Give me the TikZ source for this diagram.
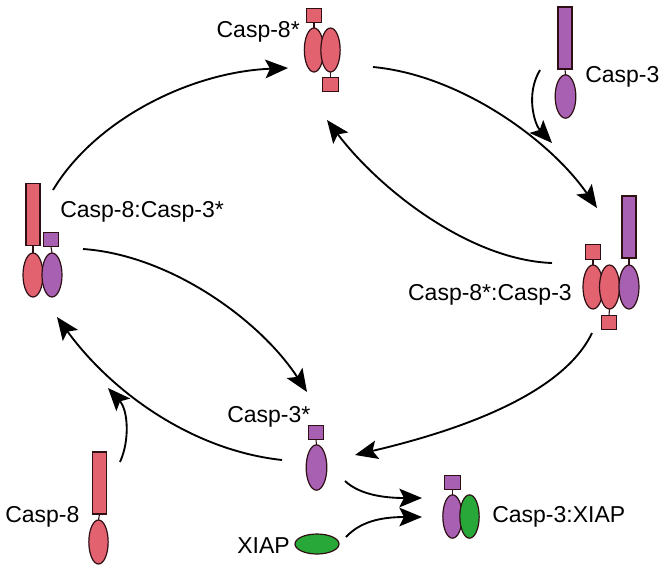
\documentclass[tikz,border=0pt]{standalone}
\usepackage{fontspec}
\setmainfont{Liberation Sans}
\usetikzlibrary{shapes.geometric,arrows.meta}
\definecolor{cpink}{RGB}{226,98,112}
\definecolor{cpurp}{RGB}{168,96,178}
\definecolor{cgreen}{RGB}{40,168,56}
\definecolor{cline}{RGB}{45,15,20}
\begin{document}
\begin{tikzpicture}[x=0.75pt,y=-0.75pt,
  part/.style={draw=cline,line width=0.9pt,inner sep=0pt,outer sep=0pt},
  oval/.style={part,ellipse,minimum width=14.5pt,minimum height=33pt},
  box/.style={part,rectangle,minimum width=11.7pt,minimum height=11pt},
  bar/.style={part,rectangle,minimum width=10.5pt,minimum height=46.5pt},
  pink/.style={fill=cpink},
  purp/.style={fill=cpurp},
  green/.style={fill=cgreen},
  link/.style={draw=cline,line width=0.8pt},
  lbl/.style={inner sep=0pt,font=\fontsize{17.25pt}{20pt}\selectfont},
  flow/.style={line width=1.4pt,-{Stealth[length=17pt,width=14pt,inset=3.5pt]}}
]
\useasboundingbox (0,0) rectangle (664,572);

% Casp-8*
\node[box,pink] (a8sqt) at (314,15.5) {};
\node[oval,pink] (a8l) at (314,50) {};
\node[oval,pink] (a8r) at (330.5,50) {};
\node[box,pink] (a8sqb) at (330.5,84.5) {};
\draw[link] (a8sqt.south) -- (a8l.north);
\draw[link] (a8r.south) -- (a8sqb.north);
\node[lbl,anchor=base east] (la8) at (300,37) {Casp-8*};

% Casp-3
\node[bar,purp] (c3bar) at (565,38) {};
\node[oval,purp,minimum width=15.5pt,minimum height=32.5pt] (c3ov) at (565.5,96.5) {};
\draw[link] (c3bar.south) -- (c3ov.north);
\node[lbl,anchor=base west] (lc3) at (585,82) {Casp-3};

% Casp-8*:Casp-3
\node[box,pink] (k1sq) at (593,252) {};
\node[oval,pink,minimum width=15pt] (k1a) at (593,287) {};
\node[oval,pink,minimum width=15pt] (k1b) at (609.5,287) {};
\node[bar,purp] (k1bar) at (629,227) {};
\node[oval,purp,minimum width=15pt] (k1c) at (629,287) {};
\node[box,pink] (k1sqb) at (609,322.5) {};
\draw[link] (k1sq.south) -- (k1a.north);
\draw[link] (k1bar.south) -- (k1c.north);
\draw[link] (k1b.south) -- (k1sqb.north);
\node[lbl,anchor=base east] (lk1) at (572,300) {Casp-8*:Casp-3};

% Casp-8:Casp-3*
\node[bar,pink,minimum height=47pt] (k2bar) at (33,214.5) {};
\node[box,purp] (k2sq) at (51,239.5) {};
\node[oval,pink,minimum width=15pt] (k2a) at (33,275) {};
\node[oval,purp,minimum width=15pt] (k2b) at (52,275) {};
\draw[link] (k2bar.south) -- (k2a.north);
\draw[link] (k2sq.south) -- (k2b.north);
\node[lbl,anchor=base west] (lk2) at (60,217) {Casp-8:Casp-3*};

% Casp-3*
\node[box,purp] (s3sq) at (316,432.5) {};
\node[oval,purp,minimum width=15.5pt,minimum height=34pt] (s3ov) at (316.5,467.5) {};
\draw[link] (s3sq.south) -- (s3ov.north);
\node[lbl,anchor=base west] (ls3) at (227,422) {Casp-3*};

% Casp-3:XIAP
\node[box,purp] (xsq) at (452.5,482.5) {};
\node[oval,purp,minimum width=14.5pt,minimum height=32.5pt] (xp) at (452.5,516.5) {};
\node[oval,green,minimum width=14.5pt,minimum height=32.5pt] (xg) at (469.5,516.5) {};
\draw[link] (xsq.south) -- (xp.north);
\node[lbl,anchor=base west] (lx) at (492,522) {Casp-3:XIAP};

% XIAP
\node[oval,green,minimum width=33pt,minimum height=15pt] (xiap) at (317,544) {};
\node[lbl,anchor=base west] (lxiap) at (237,553) {XIAP};

% Casp-8
\node[bar,pink,minimum width=10pt] (p8bar) at (99.5,483) {};
\node[oval,pink] (p8ov) at (98.5,542) {};
\draw[link] (p8bar.south) -- (p8ov.north);
\node[lbl,anchor=base west] (lp8) at (5,522) {Casp-8};

% connector end points
\coordinate (aS) at (53,190);   \coordinate (aE) at (288,68);
\coordinate (bS) at (373,67);   \coordinate (bE) at (597,208);
\coordinate (cS) at (552,263);  \coordinate (cE) at (327,120);
\coordinate (dS) at (592,333);  \coordinate (dE) at (355,455);
\coordinate (eS) at (83,249);   \coordinate (eE) at (307,392);
\coordinate (fS) at (282,460);  \coordinate (fE) at (57,317);
\coordinate (gS) at (120,462);  \coordinate (gE) at (108,388);
\coordinate (hS) at (540,70);   \coordinate (hE) at (552,143);
\coordinate (iS) at (345,481);  \coordinate (iE) at (422,498);
\coordinate (jS) at (346,537);  \coordinate (jE) at (422,517);

\draw[flow] (aS) .. controls (95,120) and (190,72) .. (aE);
\draw[flow] (bS) .. controls (460,75) and (550,140) .. (bE);
\draw[flow] (cS) .. controls (470,260) and (380,190) .. (cE);
\draw[flow] (dS) .. controls (560,400) and (440,435) .. (dE);
\draw[flow] (eS) .. controls (170,255) and (260,320) .. (eE);
\draw[flow] (fS) .. controls (190,450) and (110,390) .. (fE);
\draw[flow] (gS) .. controls (130,440) and (128,410) .. (gE);
\draw[flow] (hS) .. controls (525,95) and (535,125) .. (hE);
\draw[flow] (iS) .. controls (360,495) and (385,498) .. (iE);
\draw[flow] (jS) .. controls (360,522) and (380,517) .. (jE);
\end{tikzpicture}
\end{document}
